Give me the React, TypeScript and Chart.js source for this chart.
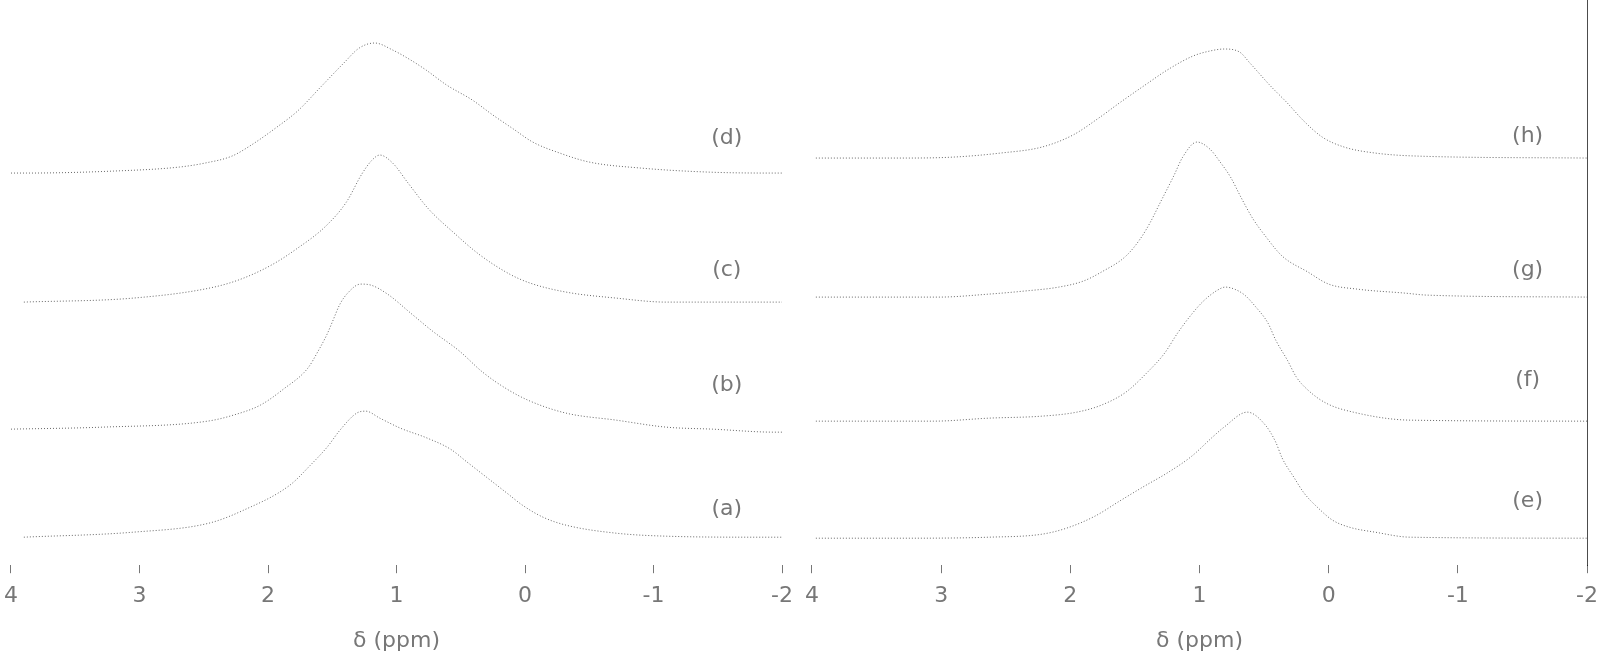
import React, { useEffect, useRef } from 'react';
import { Chart, registerables } from 'chart.js';
Chart.register(...registerables);

// Shared axis ticks (δ, ppm; axis reversed)
const xTicks = [4, 3, 2, 1, 0, -1, -2];
const axisTitle = 'δ (ppm)';

// Left panel labels (top to bottom)
const leftLabels = ['(d)', '(c)', '(b)', '(a)'];
const leftOffsets = [392, 263, 136, 28];
const leftLabelY = [427, 295, 180, 56];
const leftLabelPpm = -1.57;

// Right panel labels (top to bottom)
const rightLabels = ['(h)', '(g)', '(f)', '(e)'];
const rightOffsets = [407, 268, 144, 27];
const rightLabelY = [429, 295, 185, 64];
const rightLabelPpm = -1.54;

// Trace (d)
const ppmD = [4.0, 3.88, 3.2, 2.69, 2.49, 2.28, 2.13, 1.93, 1.77, 1.59, 1.41, 1.29, 1.17, 1.03, 0.89, 0.77, 0.61, 0.41, 0.25, 0.09, -0.06, -0.27, -0.5, -0.9, -1.42, -1.89, -2.0];
const intD = [0, 0, 2, 6, 10, 17, 28, 46, 62, 86, 110, 125, 130, 123, 113, 103, 88, 73, 58, 44, 31, 20, 11, 5, 1, 0, 0];
// Trace (c)
const ppmC = [3.9, 3.05, 2.42, 2.19, 1.96, 1.78, 1.55, 1.39, 1.27, 1.19, 1.13, 1.03, 0.91, 0.75, 0.56, 0.36, 0.12, -0.04, -0.32, -0.71, -1.1, -2.0];
const intC = [0, 4, 15, 24, 38, 53, 76, 100, 128, 142, 147, 139, 119, 93, 70, 48, 28, 19, 10, 4, 0, 0];
// Trace (b)
const ppmB = [4.0, 3.29, 2.47, 2.27, 2.06, 1.88, 1.69, 1.61, 1.54, 1.5, 1.44, 1.38, 1.28, 1.2, 1.07, 0.89, 0.72, 0.51, 0.33, 0.14, -0.04, -0.32, -0.71, -1.1, -1.46, -1.94, -2.0];
const intB = [0, 2, 8, 14, 24, 40, 61, 78, 95, 107, 125, 136, 145, 144, 135, 116, 98, 78, 57, 40, 28, 16, 9, 2, 0, -3, -3];
// Trace (a)
const ppmA = [3.9, 3.05, 2.46, 2.19, 1.83, 1.67, 1.54, 1.44, 1.31, 1.24, 1.13, 0.97, 0.76, 0.58, 0.45, 0.3, 0.14, 0.02, -0.14, -0.32, -0.71, -1.1, -1.82, -2.0];
const intA = [0, 5, 14, 27, 52, 72, 90, 107, 124, 126, 119, 109, 99, 88, 75, 60, 44, 32, 20, 12, 4, 1, 0, 0];

// Trace (h)
const ppmH = [3.97, 3.27, 2.9, 2.54, 2.22, 1.98, 1.78, 1.61, 1.41, 1.25, 1.05, 0.92, 0.81, 0.69, 0.61, 0.45, 0.32, 0.2, 0.05, -0.12, -0.36, -0.68, -2.0];
const intH = [0, 0, 1, 5, 11, 23, 40, 56, 74, 88, 102, 107, 109, 106, 95, 72, 55, 38, 21, 11, 5, 2, 0];
// Trace (g)
const ppmG = [3.97, 3.02, 2.63, 2.36, 2.09, 1.9, 1.76, 1.57, 1.46, 1.38, 1.31, 1.2, 1.13, 1.02, 0.92, 0.84, 0.76, 0.68, 0.59, 0.49, 0.36, 0.16, 0.0, -0.22, -0.59, -0.76, -2.0];
const intG = [0, 0, 3, 6, 10, 16, 25, 41, 58, 75, 93, 121, 140, 155, 148, 135, 120, 100, 79, 61, 41, 25, 13, 8, 4, 2, 0];
// Trace (f)
const ppmF = [3.97, 3.06, 2.63, 2.22, 1.95, 1.76, 1.57, 1.41, 1.27, 1.17, 1.06, 0.97, 0.86, 0.8, 0.73, 0.65, 0.57, 0.47, 0.41, 0.32, 0.25, 0.16, 0.02, -0.19, -0.63, -2.0];
const intF = [0, 0, 3, 5, 9, 16, 29, 48, 68, 88, 107, 120, 131, 134, 132, 126, 115, 98, 81, 61, 44, 31, 18, 9, 1, 0];
// Trace (e)
const ppmE = [3.97, 3.24, 2.63, 2.22, 2.03, 1.81, 1.62, 1.44, 1.24, 1.06, 0.9, 0.81, 0.63, 0.49, 0.41, 0.36, 0.27, 0.19, 0.08, -0.03, -0.16, -0.36, -0.63, -2.0];
const intE = [0, 0, 1, 4, 10, 22, 37, 51, 66, 82, 101, 111, 126, 113, 96, 80, 61, 45, 30, 18, 11, 6, 1, 0];

const leftTraces = [
  { ppm: ppmD, int: intD },
  { ppm: ppmC, int: intC },
  { ppm: ppmB, int: intB },
  { ppm: ppmA, int: intA },
];
const rightTraces = [
  { ppm: ppmH, int: intH },
  { ppm: ppmG, int: intG },
  { ppm: ppmF, int: intF },
  { ppm: ppmE, int: intE },
];

const FONT = 'DejaVu Sans';
const TEXT_COLOR = '#777';

const labelPlugin = {
  id: 'peakLabels',
  afterDatasetsDraw(chart: any, _args: any, opts: any) {
    const { ctx, scales } = chart;
    const x = scales.x;
    const y = scales.y;
    ctx.save();
    ctx.font = `22px "${FONT}"`;
    ctx.fillStyle = TEXT_COLOR;
    ctx.textAlign = 'center';
    ctx.textBaseline = 'middle';
    (opts.labels || []).forEach((t: string, i: number) => {
      ctx.fillText(t, x.getPixelForValue(opts.xPos), y.getPixelForValue(opts.ys[i]));
    });
    ctx.restore();
  },
};

function Panel(props: any) {
  const { left, width, traces, offsets, labels, labelYs, labelPpm, rightBorder } = props;
  const ref = useRef<HTMLCanvasElement>(null);
  useEffect(() => {
    const chart = new Chart(ref.current as HTMLCanvasElement, {
      type: 'line',
      data: {
        datasets: traces.map((t: any, i: number) => ({
          label: labels[i],
          data: t.ppm.map((p: number, j: number) => ({ x: p, y: offsets[i] + t.int[j] })),
          borderColor: 'rgba(0,0,0,0.6)',
          borderWidth: 1,
          borderDash: [1, 2],
          pointRadius: 0,
          fill: false,
          cubicInterpolationMode: 'monotone',
        })),
      },
      options: {
        animation: false,
        responsive: true,
        maintainAspectRatio: false,
        layout: { padding: 0 },
        plugins: {
          legend: { display: false },
          tooltip: { enabled: false },
          peakLabels: { labels, ys: labelYs, xPos: labelPpm },
        } as any,
        scales: {
          x: {
            type: 'linear',
            reverse: true,
            min: -2,
            max: 4,
            afterBuildTicks: (s: any) => {
              s.ticks = xTicks.map((v) => ({ value: v }));
            },
            grid: { display: true, drawOnChartArea: false, drawTicks: true, tickLength: 8, color: '#777' },
            border: { display: false },
            ticks: { color: TEXT_COLOR, font: { family: FONT, size: 22 }, padding: 10, maxRotation: 0 },
            title: {
              display: true,
              text: axisTitle,
              color: TEXT_COLOR,
              font: { family: FONT, size: 22 },
              padding: { top: 8, bottom: 4 },
            },
          },
          y: {
            type: 'linear',
            min: 0,
            max: 565,
            display: rightBorder ? true : false,
            position: 'right',
            ticks: { display: false },
            grid: { display: false, drawTicks: false },
            border: { display: true, color: 'rgba(0,0,0,0.7)', dash: [2, 2], width: 1 },
          },
        },
      },
      plugins: [labelPlugin],
    } as any);
    return () => chart.destroy();
  }, []);
  return (
    <div style={{ position: 'absolute', left, top: 0, width, height: 658 }}>
      <canvas ref={ref} />
    </div>
  );
}

export default function App() {
  return (
    <div style={{ position: 'fixed', left: 0, top: 0, width: 1598, height: 658, background: '#fff', overflow: 'hidden' }}>
      <Panel
        left={-6}
        width={809}
        traces={leftTraces}
        offsets={leftOffsets}
        labels={leftLabels}
        labelYs={leftLabelY}
        labelPpm={leftLabelPpm}
        rightBorder={false}
      />
      <Panel
        left={795}
        width={813}
        traces={rightTraces}
        offsets={rightOffsets}
        labels={rightLabels}
        labelYs={rightLabelY}
        labelPpm={rightLabelPpm}
        rightBorder={true}
      />
    </div>
  );
}
